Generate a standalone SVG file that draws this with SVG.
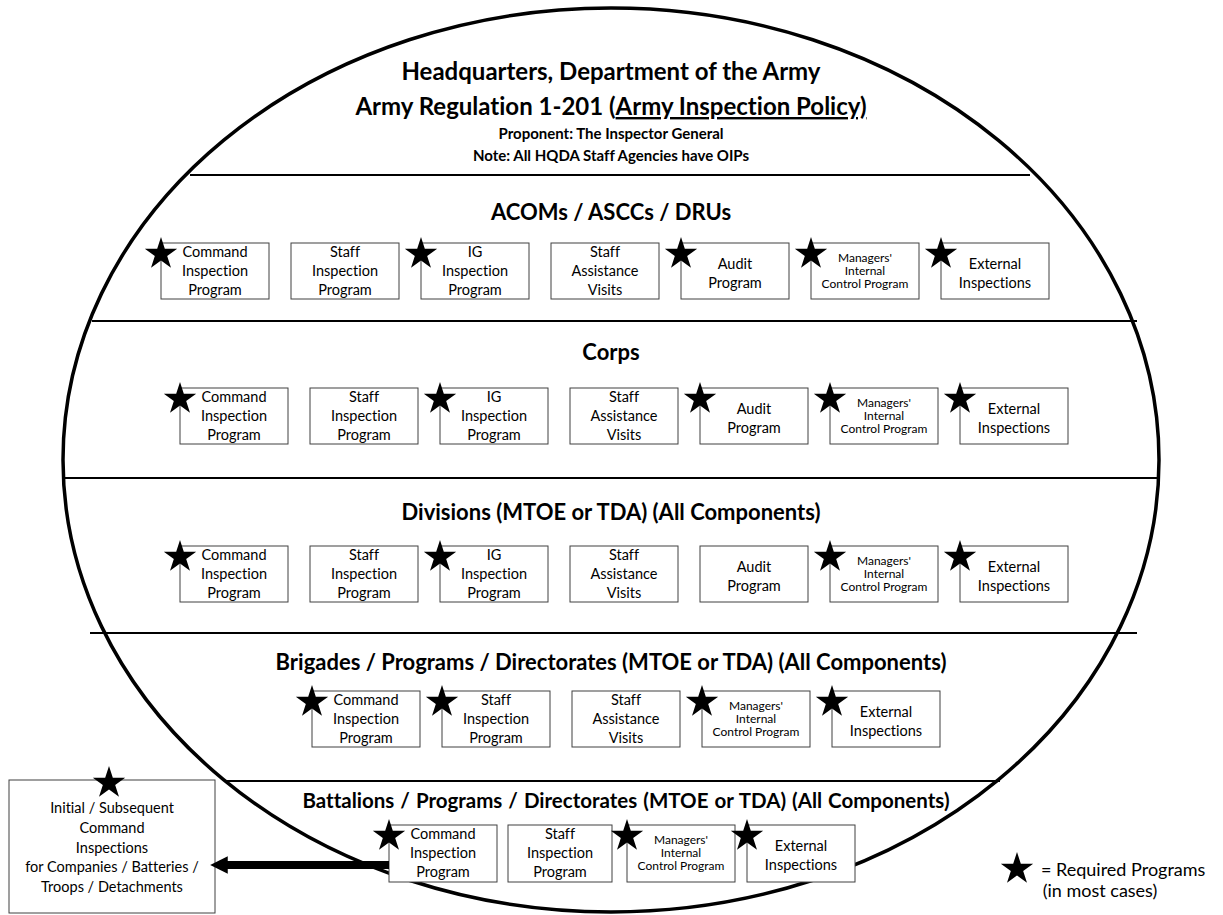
<svg xmlns="http://www.w3.org/2000/svg" xmlns:xlink="http://www.w3.org/1999/xlink" width="1223" height="915" viewBox="0 0 1223 915">
<style>
text{font-family:Lato,"Liberation Sans",sans-serif;fill:#000;font-variant-ligatures:none}
.hd{font-weight:bold;text-anchor:middle}
.h1{font-size:24px}
.h2{font-size:15px}
.rl{font-size:22px;font-weight:bold;text-anchor:middle}
.rl5{font-size:20.5px;font-weight:bold;text-anchor:middle;word-spacing:1px}
.box{fill:#fff;stroke:#404040;stroke-width:1}
.bt{font-size:14.5px;text-anchor:middle}
.sm{font-size:12px;text-anchor:middle}
.sep{stroke:#000;stroke-width:2}
.lg{font-size:18px}
</style>
<defs>
<path id="star" d="M0,-17 L3.82,-5.26 L16.17,-5.25 L6.18,2.01 L9.99,13.75 L0,6.5 L-9.99,13.75 L-6.18,2.01 L-16.17,-5.25 L-3.82,-5.26 Z" fill="#000"/>
<marker id="ah" viewBox="0 0 10 10" refX="1" refY="5" markerWidth="2.2" markerHeight="2.4" orient="auto-start-reverse" markerUnits="strokeWidth"><path d="M0,0 L10,5 L0,10 Z" fill="#000"/></marker>
</defs>

<ellipse cx="611" cy="460" rx="548" ry="452" fill="none" stroke="#000" stroke-width="3.5"/>

<g id="header">
<text class="hd h1" x="611" y="80">Headquarters, Department of the Army</text>
<text class="hd h1" x="611" y="115">Army Regulation 1-201 (<tspan text-decoration="underline">Army Inspection Policy)</tspan></text>
<text class="hd h2" x="611" y="139">Proponent: The Inspector General</text>
<text class="hd h2" x="611" y="161">Note: All HQDA Staff Agencies have OIPs</text>
</g>

<g id="separators">
<line class="sep" x1="190" y1="175" x2="1030" y2="175"/>
<line class="sep" x1="92" y1="321" x2="1137" y2="321"/>
<line class="sep" x1="63" y1="478" x2="1159" y2="478"/>
<line class="sep" x1="90" y1="633" x2="1137" y2="633"/>
<line class="sep" x1="225" y1="781" x2="1000" y2="781"/>
</g>

<g id="row-labels">
<text class="rl" x="611" y="220">ACOMs / ASCCs / DRUs</text>
<text class="rl" x="611" y="360">Corps</text>
<text class="rl" x="611" y="520">Divisions (MTOE or TDA) (All Components)</text>
<text class="rl" x="611" y="670">Brigades / Programs / Directorates (MTOE or TDA) (All Components)</text>
<text class="rl5" x="626" y="808">Battalions / Programs / Directorates (MTOE or TDA) (All Components)</text>
</g>

<!-- Row 1 -->
<g id="r1-cip" transform="translate(161,243)"><rect class="box" width="108" height="56"/><text class="bt" x="54" y="14">Command</text><text class="bt" x="54" y="33">Inspection</text><text class="bt" x="54" y="52">Program</text><use xlink:href="#star" x="0" y="11"/></g>
<g id="r1-sip" transform="translate(291,243)"><rect class="box" width="108" height="56"/><text class="bt" x="54" y="14">Staff</text><text class="bt" x="54" y="33">Inspection</text><text class="bt" x="54" y="52">Program</text></g>
<g id="r1-ig" transform="translate(421,243)"><rect class="box" width="108" height="56"/><text class="bt" x="54" y="14">IG</text><text class="bt" x="54" y="33">Inspection</text><text class="bt" x="54" y="52">Program</text><use xlink:href="#star" x="0" y="11"/></g>
<g id="r1-sav" transform="translate(551,243)"><rect class="box" width="108" height="56"/><text class="bt" x="54" y="14">Staff</text><text class="bt" x="54" y="33">Assistance</text><text class="bt" x="54" y="52">Visits</text></g>
<g id="r1-aud" transform="translate(681,243)"><rect class="box" width="108" height="56"/><text class="bt" x="54" y="26">Audit</text><text class="bt" x="54" y="45">Program</text><use xlink:href="#star" x="0" y="11"/></g>
<g id="r1-mic" transform="translate(811,243)"><rect class="box" width="108" height="56"/><text class="sm" x="54" y="19">Managers'</text><text class="sm" x="54" y="32">Internal</text><text class="sm" x="54" y="45">Control Program</text><use xlink:href="#star" x="0" y="11"/></g>
<g id="r1-ext" transform="translate(941,243)"><rect class="box" width="108" height="56"/><text class="bt" x="54" y="26">External</text><text class="bt" x="54" y="45">Inspections</text><use xlink:href="#star" x="0" y="11"/></g>

<!-- Row 2 -->
<g id="r2-cip" transform="translate(180,388)"><rect class="box" width="108" height="56"/><text class="bt" x="54" y="14">Command</text><text class="bt" x="54" y="33">Inspection</text><text class="bt" x="54" y="52">Program</text><use xlink:href="#star" x="0" y="11"/></g>
<g id="r2-sip" transform="translate(310,388)"><rect class="box" width="108" height="56"/><text class="bt" x="54" y="14">Staff</text><text class="bt" x="54" y="33">Inspection</text><text class="bt" x="54" y="52">Program</text></g>
<g id="r2-ig" transform="translate(440,388)"><rect class="box" width="108" height="56"/><text class="bt" x="54" y="14">IG</text><text class="bt" x="54" y="33">Inspection</text><text class="bt" x="54" y="52">Program</text><use xlink:href="#star" x="0" y="11"/></g>
<g id="r2-sav" transform="translate(570,388)"><rect class="box" width="108" height="56"/><text class="bt" x="54" y="14">Staff</text><text class="bt" x="54" y="33">Assistance</text><text class="bt" x="54" y="52">Visits</text></g>
<g id="r2-aud" transform="translate(700,388)"><rect class="box" width="108" height="56"/><text class="bt" x="54" y="26">Audit</text><text class="bt" x="54" y="45">Program</text><use xlink:href="#star" x="0" y="11"/></g>
<g id="r2-mic" transform="translate(830,388)"><rect class="box" width="108" height="56"/><text class="sm" x="54" y="19">Managers'</text><text class="sm" x="54" y="32">Internal</text><text class="sm" x="54" y="45">Control Program</text><use xlink:href="#star" x="0" y="11"/></g>
<g id="r2-ext" transform="translate(960,388)"><rect class="box" width="108" height="56"/><text class="bt" x="54" y="26">External</text><text class="bt" x="54" y="45">Inspections</text><use xlink:href="#star" x="0" y="11"/></g>

<!-- Row 3 -->
<g id="r3-cip" transform="translate(180,546)"><rect class="box" width="108" height="56"/><text class="bt" x="54" y="14">Command</text><text class="bt" x="54" y="33">Inspection</text><text class="bt" x="54" y="52">Program</text><use xlink:href="#star" x="0" y="11"/></g>
<g id="r3-sip" transform="translate(310,546)"><rect class="box" width="108" height="56"/><text class="bt" x="54" y="14">Staff</text><text class="bt" x="54" y="33">Inspection</text><text class="bt" x="54" y="52">Program</text></g>
<g id="r3-ig" transform="translate(440,546)"><rect class="box" width="108" height="56"/><text class="bt" x="54" y="14">IG</text><text class="bt" x="54" y="33">Inspection</text><text class="bt" x="54" y="52">Program</text><use xlink:href="#star" x="0" y="11"/></g>
<g id="r3-sav" transform="translate(570,546)"><rect class="box" width="108" height="56"/><text class="bt" x="54" y="14">Staff</text><text class="bt" x="54" y="33">Assistance</text><text class="bt" x="54" y="52">Visits</text></g>
<g id="r3-aud" transform="translate(700,546)"><rect class="box" width="108" height="56"/><text class="bt" x="54" y="26">Audit</text><text class="bt" x="54" y="45">Program</text></g>
<g id="r3-mic" transform="translate(830,546)"><rect class="box" width="108" height="56"/><text class="sm" x="54" y="19">Managers'</text><text class="sm" x="54" y="32">Internal</text><text class="sm" x="54" y="45">Control Program</text><use xlink:href="#star" x="0" y="11"/></g>
<g id="r3-ext" transform="translate(960,546)"><rect class="box" width="108" height="56"/><text class="bt" x="54" y="26">External</text><text class="bt" x="54" y="45">Inspections</text><use xlink:href="#star" x="0" y="11"/></g>

<!-- Row 4 -->
<g id="r4-cip" transform="translate(312,691)"><rect class="box" width="108" height="56"/><text class="bt" x="54" y="14">Command</text><text class="bt" x="54" y="33">Inspection</text><text class="bt" x="54" y="52">Program</text><use xlink:href="#star" x="0" y="11"/></g>
<g id="r4-sip" transform="translate(442,691)"><rect class="box" width="108" height="56"/><text class="bt" x="54" y="14">Staff</text><text class="bt" x="54" y="33">Inspection</text><text class="bt" x="54" y="52">Program</text><use xlink:href="#star" x="0" y="11"/></g>
<g id="r4-sav" transform="translate(572,691)"><rect class="box" width="108" height="56"/><text class="bt" x="54" y="14">Staff</text><text class="bt" x="54" y="33">Assistance</text><text class="bt" x="54" y="52">Visits</text></g>
<g id="r4-mic" transform="translate(702,691)"><rect class="box" width="108" height="56"/><text class="sm" x="54" y="19">Managers'</text><text class="sm" x="54" y="32">Internal</text><text class="sm" x="54" y="45">Control Program</text><use xlink:href="#star" x="0" y="11"/></g>
<g id="r4-ext" transform="translate(832,691)"><rect class="box" width="108" height="56"/><text class="bt" x="54" y="26">External</text><text class="bt" x="54" y="45">Inspections</text><use xlink:href="#star" x="0" y="11"/></g>

<!-- Row 5 -->
<g id="r5-cip" transform="translate(389,825)"><rect class="box" width="108" height="57"/><text class="bt" x="54" y="14">Command</text><text class="bt" x="54" y="33">Inspection</text><text class="bt" x="54" y="52">Program</text><use xlink:href="#star" x="0" y="11"/></g>
<g id="r5-sip" transform="translate(508,825)"><rect class="box" width="104" height="57"/><text class="bt" x="52" y="14">Staff</text><text class="bt" x="52" y="33">Inspection</text><text class="bt" x="52" y="52">Program</text></g>
<g id="r5-mic" transform="translate(627,825)"><rect class="box" width="108" height="57"/><text class="sm" x="54" y="19">Managers'</text><text class="sm" x="54" y="32">Internal</text><text class="sm" x="54" y="45">Control Program</text><use xlink:href="#star" x="0" y="11"/></g>
<g id="r5-ext" transform="translate(747,825)"><rect class="box" width="108" height="57"/><text class="bt" x="54" y="26">External</text><text class="bt" x="54" y="45">Inspections</text><use xlink:href="#star" x="0" y="11"/></g>

<!-- Companies box -->
<g id="companies" transform="translate(9,780)"><rect class="box" width="206" height="133"/><text class="bt" x="103" y="33">Initial / Subsequent</text><text class="bt" x="103" y="53">Command</text><text class="bt" x="103" y="73">Inspections</text><text class="bt" x="103" y="92">for Companies / Batteries /</text><text class="bt" x="103" y="112">Troops / Detachments</text><use xlink:href="#star" x="100" y="3"/></g>

<g id="connectors">
<line x1="389" y1="865" x2="226" y2="865" stroke="#000" stroke-width="8" marker-end="url(#ah)"/>
</g>

<g id="legend">
<use xlink:href="#star" x="1017" y="869"/>
<text class="lg" x="1041" y="876">= Required Programs</text>
<text class="lg" x="1100" y="897" text-anchor="middle">(in most cases)</text>
</g>
</svg>
